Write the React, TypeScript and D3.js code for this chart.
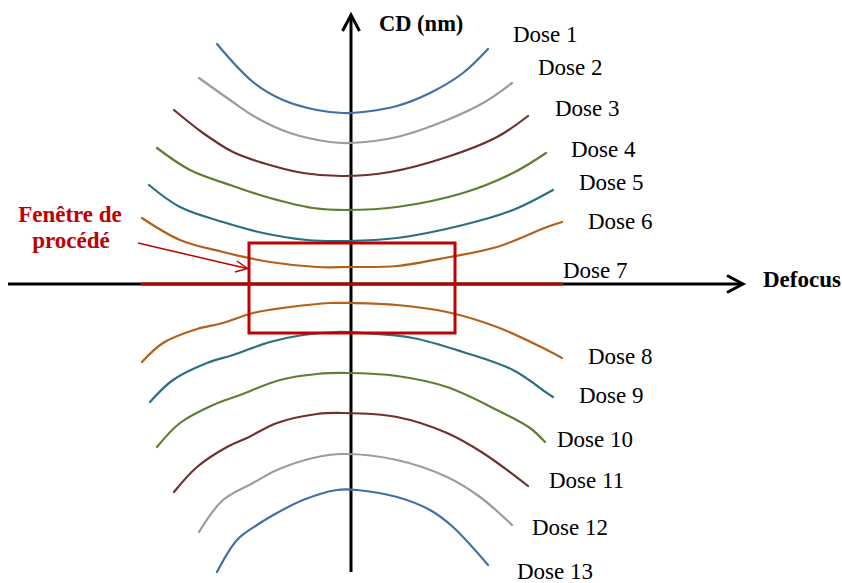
import React from "react";
import * as d3 from "d3";

// Bossung curves: [defocus, CD] pairs (arbitrary units, origin at axes crossing)
const dose1 = [[-13.4,24.0],[-9.8,20.2],[-6.8,18.4],[-3.4,17.4],[-0.8,17.1],[1.2,17.2],[4.6,17.8],[7.9,19.1],[11.2,21.1],[13.7,23.5]];
const dose2 = [[-15.2,20.6],[-12.1,18.4],[-9.4,16.6],[-6.1,15.1],[-2.1,14.2],[-0.1,14.1],[4.6,14.7],[9.6,16.4],[13.2,18.1],[16.1,20.1]];
const dose3 = [[-17.7,17.4],[-14.8,15.1],[-11.8,13.2],[-8.8,12.1],[-4.8,11.1],[-0.8,10.8],[3.9,11.2],[9.6,12.7],[14.6,14.7],[17.7,16.8]];
const dose4 = [[-19.4,13.6],[-16.1,11.4],[-12.1,9.9],[-8.1,8.6],[-3.8,7.6],[-0.4,7.4],[4.6,7.7],[11.2,9.1],[16.2,11.1],[19.5,13.1]];
const dose5 = [[-20.2,9.9],[-17.1,7.7],[-12.8,6.2],[-8.8,5.1],[-4.4,4.4],[-0.4,4.3],[4.6,4.6],[11.2,5.9],[16.2,7.4],[20.2,9.4]];
const dose6 = [[-20.9,6.6],[-17.1,4.4],[-12.8,3.2],[-8.1,2.2],[-3.4,1.7],[-0.1,1.7],[4.6,1.8],[9.9,2.7],[14.6,3.7],[19.6,5.7],[21.1,6.2]];
const dose7 = [[-20.9,0],[21.1,0]];
const dose8 = [[-20.9,-7.8],[-18.8,-5.9],[-15.4,-4.5],[-12.8,-3.9],[-9.8,-2.9],[-6.1,-2.3],[-2.1,-1.9],[0.2,-1.9],[4.6,-2.1],[9.6,-2.8],[14.6,-4.3],[19.6,-6.6],[21.1,-7.4]];
const dose9 = [[-20.1,-11.8],[-17.8,-9.6],[-14.4,-7.9],[-11.8,-7.1],[-8.1,-5.8],[-4.8,-5.1],[-1.4,-4.8],[1.2,-4.9],[6.2,-5.4],[11.2,-6.8],[16.2,-8.6],[19.6,-10.9],[20.2,-11.3]];
const dose10 = [[-19.4,-16.3],[-17.1,-13.9],[-13.8,-12.1],[-11.1,-11.1],[-7.1,-9.6],[-3.4,-9.0],[-0.4,-8.9],[4.6,-9.2],[9.6,-10.3],[14.6,-12.6],[17.9,-14.4],[19.4,-15.8]];
const dose11 = [[-17.7,-20.8],[-15.4,-18.3],[-12.4,-16.3],[-10.4,-15.4],[-7.4,-13.9],[-3.4,-13.0],[-0.8,-12.9],[4.6,-13.3],[9.6,-14.9],[13.2,-16.9],[17.7,-20.2]];
const dose12 = [[-15.2,-24.8],[-12.8,-21.6],[-9.8,-19.9],[-7.4,-18.6],[-3.8,-17.4],[-0.8,-17.0],[4.6,-17.6],[9.6,-19.3],[12.9,-21.3],[16.1,-24.1]];
const dose13 = [[-13.4,-28.8],[-11.4,-25.6],[-9.4,-24.1],[-7.4,-22.9],[-4.8,-21.6],[-1.4,-20.6],[0.6,-20.6],[4.6,-21.3],[7.9,-22.6],[10.2,-24.3],[13.7,-28.1]];

const doseNames = ["Dose 1","Dose 2","Dose 3","Dose 4","Dose 5","Dose 6","Dose 7","Dose 8","Dose 9","Dose 10","Dose 11","Dose 12","Dose 13"];
const doseSeries = [dose1,dose2,dose3,dose4,dose5,dose6,dose7,dose8,dose9,dose10,dose11,dose12,dose13];

// process window (defocus range, CD range)
const windowDefocus = [-10.2, 10.4];
const windowCD = [-4.9, 4.1];

const axisTitleX = "Defocus";
const axisTitleY = "CD (nm)";
const windowLabel = ["Fenêtre de", "procédé"];

// ---- layout / style (not data) ----
const W = 842, H = 583;
const COLORS = ["#436ea6","#9c9c9c","#70302e","#5f7e34","#2c6e84","#b5601a","#c00000","#b5601a","#2c6e84","#5f7e34","#70302e","#9c9c9c","#436ea6"];
const LABEL_OFFSETS = [[25,-7],[26,-8],[27,0],[25,4],[26,0],[26,7],[1,-6],[26,6],[26,6],[12,5],[21,2],[20,10],[29,14]];
const RED = "#c00000";
const SERIF = "'Liberation Serif', 'Times New Roman', serif";

export default function App() {
  const x = d3.scaleLinear().domain([0, 10]).range([351, 451]);
  const y = d3.scaleLinear().domain([0, 10]).range([284, 184]);
  const line = d3.line<number[]>().x(d => x(d[0])).y(d => y(d[1])).curve(d3.curveCatmullRom.alpha(0.5));

  const xAxisStart = x(-34.3), xAxisEnd = x(39.2);
  const yAxisBottom = y(-28.8), yAxisTop = y(26.9);
  const ox = x(0), oy = y(0);
  const wl = x(windowDefocus[0]);

  return (
    <svg width={W} height={H} style={{ position: "absolute", left: 0, top: 0, background: "#fff" }} fontFamily={SERIF}>
      {/* horizontal axis */}
      <line x1={xAxisStart} y1={oy} x2={xAxisEnd - 2} y2={oy} stroke="#000" strokeWidth={3} />
      <path d={`M${xAxisEnd - 16},${oy - 8.5} L${xAxisEnd},${oy} L${xAxisEnd - 16},${oy + 8.5}`} fill="none" stroke="#000" strokeWidth={3} />
      {/* vertical axis */}
      <line x1={ox} y1={yAxisBottom} x2={ox} y2={yAxisTop + 2} stroke="#000" strokeWidth={3} />
      <path d={`M${ox - 8.5},${yAxisTop + 16} L${ox},${yAxisTop} L${ox + 8.5},${yAxisTop + 16}`} fill="none" stroke="#000" strokeWidth={3} />

      {/* curves */}
      {doseSeries.map((s, i) => (
        <path key={i} d={line(s) || ""} fill="none" stroke={COLORS[i]} strokeWidth={i === 6 ? 3 : 2.2} strokeLinecap="round" strokeLinejoin="round" />
      ))}

      {/* process window */}
      <rect x={wl} y={y(windowCD[1])} width={x(windowDefocus[1]) - wl} height={y(windowCD[0]) - y(windowCD[1])}
        fill="none" stroke={RED} strokeWidth={3} />
      {/* pointer arrow */}
      <line x1={138} y1={243} x2={wl - 2} y2={268.5} stroke={RED} strokeWidth={1.5} />
      <path d={`M${wl - 12},${261} L${wl - 1.5},${268.5} L${wl - 14},${272}`} fill="none" stroke={RED} strokeWidth={1.5} />
      <text x={70} y={222} textAnchor="middle" fontSize={23} fontWeight="bold" fill={RED}>{windowLabel[0]}</text>
      <text x={71} y={248} textAnchor="middle" fontSize={23} fontWeight="bold" fill={RED}>{windowLabel[1]}</text>

      {/* labels */}
      {doseSeries.map((s, i) => {
        const end = s[s.length - 1];
        return (
          <text key={i} x={x(end[0]) + LABEL_OFFSETS[i][0]} y={y(end[1]) + LABEL_OFFSETS[i][1]} fontSize={23} fill="#000">{doseNames[i]}</text>
        );
      })}
      <text x={763} y={287} fontSize={23} fontWeight="bold">{axisTitleX}</text>
      <text x={379} y={31} fontSize={22.5} fontWeight="bold">{axisTitleY}</text>
    </svg>
  );
}
